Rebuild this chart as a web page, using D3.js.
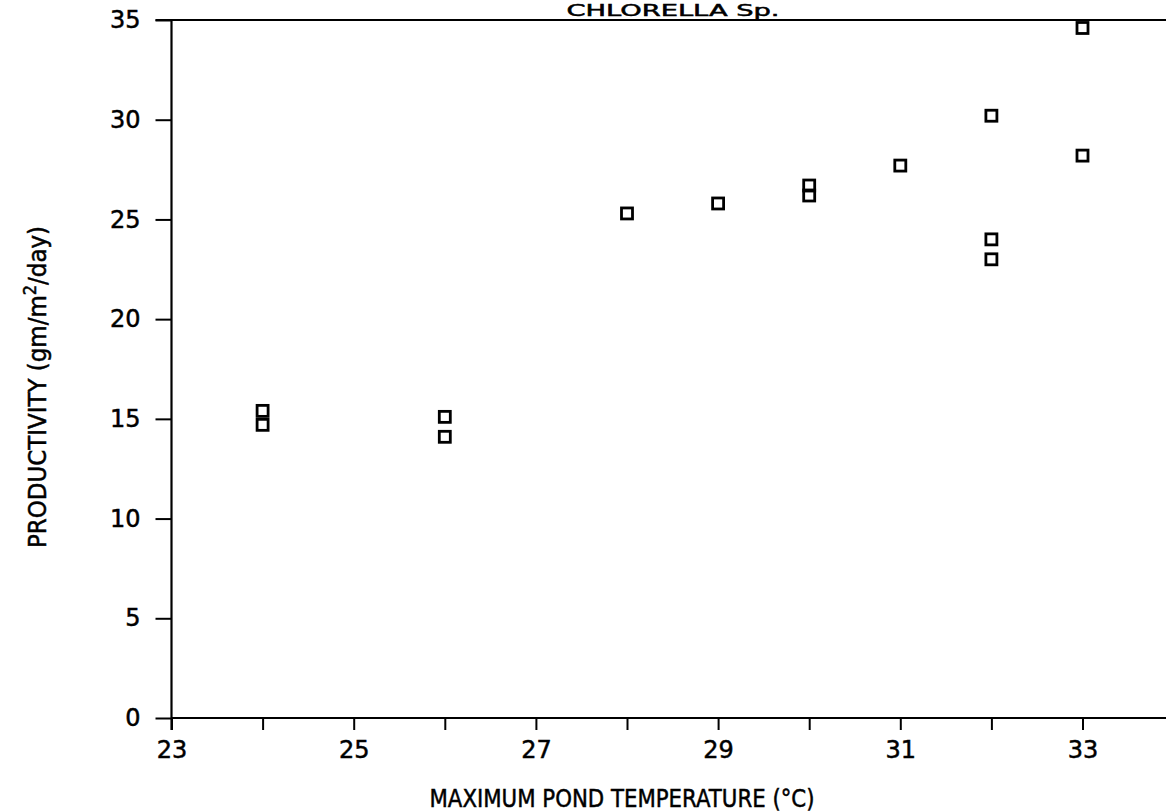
<!DOCTYPE html>
<html>
<head>
<meta charset="utf-8">
<script src="https://cdn.jsdelivr.net/npm/d3@7"></script>
<style>
  html, body { margin: 0; padding: 0; background: #fff; }
  svg { display: block; }
  text { font-family: "DejaVu Sans", sans-serif; fill: #000; stroke: #000; stroke-width: 0.5px; }
</style>
</head>
<body>
<svg id="chart" width="1166" height="812"></svg>
<script>
// Data
const temperature = [24, 24, 26, 26, 28, 29, 30, 30, 31, 32, 32, 32, 33, 33];
const productivity = [15.4, 14.7, 15.1, 14.1, 25.3, 25.8, 26.7, 26.2, 27.7, 30.2, 24.0, 23.0, 34.6, 28.2];
const xTickValues = [23, 24, 25, 26, 27, 28, 29, 30, 31, 32, 33];
const xTickLabels = ["23", "", "25", "", "27", "", "29", "", "31", "", "33"];
const yTickValues = [0, 5, 10, 15, 20, 25, 30, 35];
const titleText = "CHLORELLA Sp.";
const xTitle = "MAXIMUM POND TEMPERATURE (°C)";

const svg = d3.select("#chart");
const x = d3.scaleLinear().domain([23, 33]).range([171.5, 1082.5]);
const y = d3.scaleLinear().domain([0, 35]).range([718, 20]);

// Title (sits right at the top edge, above the frame line)
svg.append("text")
  .attr("x", 673).attr("y", 16)
  .attr("text-anchor", "middle")
  .attr("font-size", 16)
  .attr("textLength", 213).attr("lengthAdjust", "spacingAndGlyphs")
  .text(titleText);

// X axis
const xAxis = d3.axisBottom(x)
  .tickValues(xTickValues)
  .tickSize(12)
  .tickPadding(11)
  .tickFormat((d, i) => xTickLabels[i]);
const gx = svg.append("g").attr("transform", `translate(0,${y(0)})`).call(xAxis);
gx.select(".domain").remove();
gx.selectAll(".tick line").attr("stroke", "#000").attr("stroke-width", 2);
gx.selectAll(".tick text").attr("font-size", 24).attr("font-family", "DejaVu Sans, sans-serif").attr("fill", "#000");
gx.append("line").attr("x1", x(23)).attr("x2", 1166).attr("y1", 0).attr("y2", 0)
  .attr("stroke", "#000").attr("stroke-width", 2.2);

// Y axis
const yAxis = d3.axisLeft(y)
  .tickValues(yTickValues)
  .tickSize(16)
  .tickPadding(15)
  .tickFormat(d3.format("d"));
const gy = svg.append("g").attr("transform", `translate(${x(23)},0)`).call(yAxis);
gy.select(".domain").remove();
gy.selectAll(".tick line").attr("stroke", "#000").attr("stroke-width", 2);
gy.selectAll(".tick text").attr("font-size", 24).attr("font-family", "DejaVu Sans, sans-serif").attr("fill", "#000");
gy.append("line").attr("x1", 0).attr("x2", 0).attr("y1", y(35)).attr("y2", y(0) + 12)
  .attr("stroke", "#000").attr("stroke-width", 2.2);

// Top frame line
svg.append("line")
  .attr("x1", x(23) - 16).attr("x2", 1166)
  .attr("y1", y(35)).attr("y2", y(35))
  .attr("stroke", "#000").attr("stroke-width", 2.2);

// Axis titles
svg.append("text")
  .attr("x", 622).attr("y", 807)
  .attr("text-anchor", "middle")
  .attr("font-size", 24)
  .attr("textLength", 385).attr("lengthAdjust", "spacingAndGlyphs")
  .text(xTitle);

const yt = svg.append("text")
  .attr("transform", "translate(46,387) rotate(-90)")
  .attr("text-anchor", "middle")
  .attr("font-size", 24);
yt.append("tspan").text("PRODUCTIVITY (gm/m");
yt.append("tspan").attr("font-size", 17).attr("dy", -10).text("2");
yt.append("tspan").attr("dy", 10).text("/day)");
const ytLen = yt.node().getComputedTextLength();
const targetLen = 322;
yt.attr("transform", `translate(46,387) rotate(-90) scale(${targetLen / ytLen},1)`);

// Points: hollow squares
const s = 11;
svg.append("g").selectAll("rect")
  .data(temperature.map((t, i) => ({ t, p: productivity[i] })))
  .join("rect")
  .attr("x", d => x(d.t) - s / 2)
  .attr("y", d => y(d.p) - s / 2)
  .attr("width", s).attr("height", s)
  .attr("fill", "none")
  .attr("stroke", "#000")
  .attr("stroke-width", 2.8);
</script>
</body>
</html>
